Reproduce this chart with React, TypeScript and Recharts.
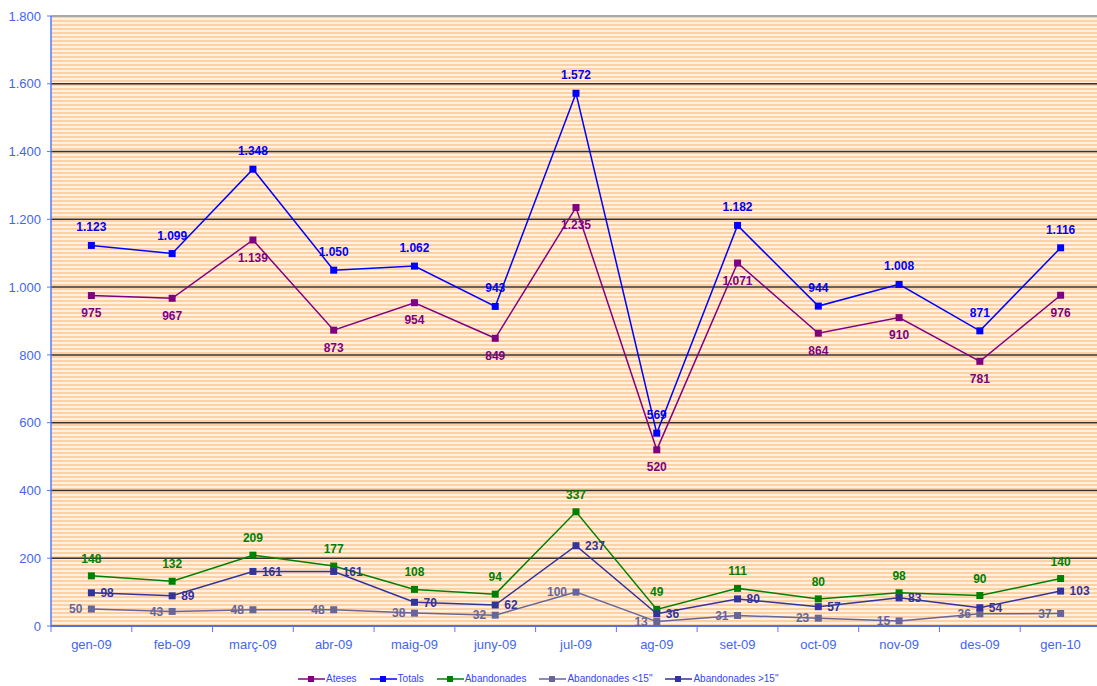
import React from "react";
import { LineChart, Line, XAxis, YAxis, CartesianGrid, LabelList, Legend, ReferenceLine } from "recharts";

const months = ["gen-09", "feb-09", "març-09", "abr-09", "maig-09", "juny-09", "jul-09", "ag-09", "set-09", "oct-09", "nov-09", "des-09", "gen-10"];
const ateses = [975, 967, 1139, 873, 954, 849, 1235, 520, 1071, 864, 910, 781, 976];
const totals = [1123, 1099, 1348, 1050, 1062, 943, 1572, 569, 1182, 944, 1008, 871, 1116];
const abandonades = [148, 132, 209, 177, 108, 94, 337, 49, 111, 80, 98, 90, 140];
const abandMenys15 = [50, 43, 48, 48, 38, 32, 100, 13, 31, 23, 15, 36, 37];
const abandMes15 = [98, 89, 161, 161, 70, 62, 237, 36, 80, 57, 83, 54, 103];
const yTicks = [0, 200, 400, 600, 800, 1000, 1200, 1400, 1600, 1800];

const CHART_W = 1101;
const CHART_H = 686;
const LEFT = 51;
const BAND = (CHART_W - LEFT) / months.length;

const data = months.map((m, i) => ({
  month: m,
  ateses: ateses[i],
  totals: totals[i],
  abandonades: abandonades[i],
  menys15: abandMenys15[i],
  mes15: abandMes15[i],
}));

const series = [
  { key: "ateses", name: "Ateses", color: "#800080", pos: "bottom", offset: 13 },
  { key: "totals", name: "Totals", color: "#0000ff", pos: "top", offset: 14 },
  { key: "abandonades", name: "Abandonades", color: "#008000", pos: "top", offset: 13 },
  { key: "menys15", name: "Abandonades <15\"", color: "#666699", pos: "left", offset: 9 },
  { key: "mes15", name: "Abandonades >15\"", color: "#333399", pos: "right", offset: 9 },
];

const fmt = (v: number) => String(v).replace(/\B(?=(\d{3})+(?!\d))/g, ".");

const SquareDot = (color: string) => (props: any) => {
  const { cx, cy, index } = props;
  if (cx == null || cy == null) return null;
  return <rect key={index} x={cx - 3.5} y={cy - 3.5} width={7} height={7} fill={color} />;
};

const XTick = (props: any) => {
  const { x, y, payload, index } = props;
  const half = BAND / 2;
  return (
    <g>
      {index === 0 && <line x1={x - half} x2={x - half} y1={y} y2={y + 6} stroke="#5577ff" />}
      <line x1={x + half} x2={x + half} y1={y} y2={y + 6} stroke="#5577ff" />
      <text x={x} y={y + 23} textAnchor="middle" fill="#4466ee" fontSize={13} fontFamily="Liberation Sans, Arial, sans-serif">
        {payload.value}
      </text>
    </g>
  );
};

const LegendContent = () => (
  <div style={{ height: 20, position: "relative" }}>
    <div style={{ position: "absolute", left: 298, top: 7, display: "flex", alignItems: "center", fontFamily: "Liberation Sans, Arial, sans-serif", fontSize: 10, color: "#3344ff" }}>
      {series.map((s) => (
        <div key={s.key} style={{ display: "flex", alignItems: "center", marginRight: 13 }}>
          <svg width={27} height={10}>
            <line x1={0} x2={27} y1={5} y2={5} stroke={s.color} strokeWidth={1.5} />
            <rect x={10} y={2} width={6} height={6} fill={s.color} />
          </svg>
          <span style={{ marginLeft: 1 }}>{s.name}</span>
        </div>
      ))}
    </div>
  </div>
);

export default function App() {
  return (
    <div style={{ position: "absolute", left: 0, top: 0, width: 1097, height: 686, overflow: "hidden", background: "#fff" }}>
      <LineChart width={CHART_W} height={CHART_H} data={data} margin={{ top: 16, right: 0, bottom: 0, left: 0 }}>
        <defs>
          <pattern id="stripes" patternUnits="userSpaceOnUse" width={8} height={4}>
            <rect x={0} y={0} width={8} height={4} fill="#fff1e2" />
            <rect x={0} y={0} width={8} height={2} fill="#fdd1a4" />
          </pattern>
        </defs>
        <CartesianGrid vertical={false} stroke="#333333" strokeWidth={1.5} fill="url(#stripes)" fillOpacity={1} />
        <ReferenceLine y={1800} stroke="#a8a8a8" strokeWidth={2} />
        <XAxis
          dataKey="month"
          height={40}
          padding={{ left: BAND / 2, right: BAND / 2 }}
          tickLine={false}
          tickSize={0}
          tickMargin={0}
          axisLine={{ stroke: "#5577ff", strokeWidth: 1.5 }}
          tick={<XTick />}
          interval={0}
        />
        <YAxis
          width={LEFT}
          domain={[0, 1800]}
          ticks={yTicks}
          tickFormatter={fmt}
          tickSize={4}
          tickMargin={6}
          axisLine={{ stroke: "#5577ff", strokeWidth: 1.5 }}
          tickLine={{ stroke: "#5577ff" }}
          tick={{ fill: "#4466ee", fontSize: 13, fontFamily: "Liberation Sans, Arial, sans-serif" }}
        />
        <Legend verticalAlign="bottom" content={<LegendContent />} />
        {series.map((s) => (
          <Line
            key={s.key}
            dataKey={s.key}
            name={s.name}
            stroke={s.color}
            strokeWidth={1.5}
            dot={SquareDot(s.color)}
            activeDot={false}
            isAnimationActive={false}
          >
            <LabelList
              dataKey={s.key}
              position={s.pos as any}
              offset={s.offset}
              formatter={(v: any) => fmt(Number(v))}
              fill={s.color}
              fontSize={12}
              fontWeight="bold"
              fontFamily="Liberation Sans, Arial, sans-serif"
            />
          </Line>
        ))}
      </LineChart>
    </div>
  );
}
